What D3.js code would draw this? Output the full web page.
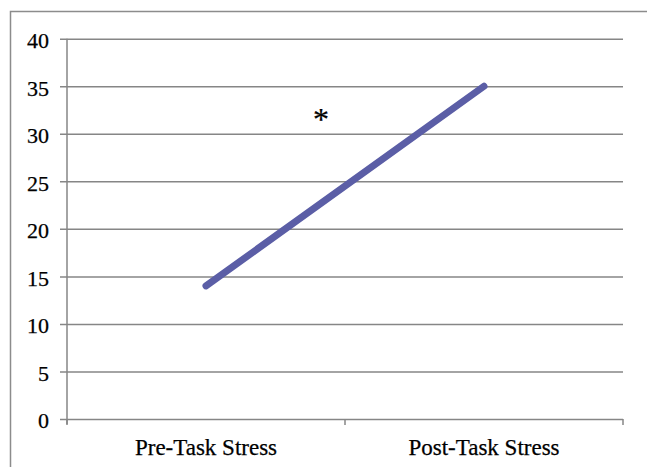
<!doctype html>
<html lang="en">
<head>
  <meta charset="utf-8">
  <title>Stress - D3</title>
  <style>
    body { margin: 0; background: #fff; }
    text { font-family: "Liberation Serif", "Times New Roman", serif; fill: #000; stroke: #000; stroke-width: 0.25px; }
  </style>
</head>
<body>
  <svg></svg>
  <script src="https://cdn.jsdelivr.net/npm/d3@7/dist/d3.min.js"></script>
  <script>
    // data
    var categories = ['Pre-Task Stress', 'Post-Task Stress'];
    var values = [14, 35];
    var yTicks = [0, 5, 10, 15, 20, 25, 30, 35, 40];

    var width = 647, height = 467;
    var plotLeft = 67, plotRight = 623, plotTop = 38.7, plotBottom = 419;

    var svg = d3.select('svg').attr('width', width).attr('height', height);

    // outer frame (top and left only visible)
    svg.append('path')
      .attr('d', 'M10.5,' + height + 'V11.5H' + width)
      .attr('fill', 'none')
      .attr('stroke', '#8c8c8c')
      .attr('stroke-width', 1.5);

    var x = d3.scaleBand().domain(categories).range([plotLeft, plotRight]);
    var y = d3.scaleLinear().domain([0, 40]).range([plotBottom, plotTop]);

    // gridlines + y axis
    var yAxis = d3.axisLeft(y).tickValues(yTicks).tickSize(plotRight - plotLeft + 7).tickPadding(11);
    var gy = svg.append('g').attr('transform', 'translate(' + plotRight + ',0)').call(yAxis);
    gy.select('.domain').remove();
    gy.selectAll('.tick line').attr('stroke', '#868686').attr('stroke-width', 1.5);
    gy.selectAll('.tick text').attr('font-size', 22).attr('dy', '0.4em')
      .attr('font-family', '"Liberation Serif", serif');

    // vertical axis line
    svg.append('line')
      .attr('x1', plotLeft).attr('x2', plotLeft)
      .attr('y1', y(40)).attr('y2', y(0) + 5)
      .attr('stroke', '#868686').attr('stroke-width', 1.5);

    // x axis
    var gx = svg.append('g').attr('transform', 'translate(0,' + plotBottom + ')')
      .call(d3.axisBottom(x).tickSize(0).tickPadding(20));
    gx.select('.domain').remove();
    gx.selectAll('.tick text').attr('font-size', 23)
      .attr('font-family', '"Liberation Serif", serif');
    var edges = [plotLeft].concat(categories.map(function (c) { return x(c) + x.bandwidth(); }));
    gx.selectAll('.edge').data(edges).enter().append('line')
      .attr('x1', function (d) { return d; }).attr('x2', function (d) { return d; })
      .attr('y1', 0).attr('y2', 6)
      .attr('stroke', '#868686').attr('stroke-width', 1.5);

    // line
    svg.append('path')
      .datum(values)
      .attr('fill', 'none')
      .attr('stroke', '#5b5ea6')
      .attr('stroke-width', 7)
      .attr('stroke-linecap', 'round')
      .attr('d', d3.line()
        .x(function (d, i) { return x(categories[i]) + x.bandwidth() / 2; })
        .y(function (d) { return y(d); }));

    // significance marker
    svg.append('text')
      .attr('x', x(categories[1]) - 24)
      .attr('y', y(30.4))
      .attr('text-anchor', 'middle')
      .attr('font-size', 32)
      .text('*');
  </script>
</body>
</html>
